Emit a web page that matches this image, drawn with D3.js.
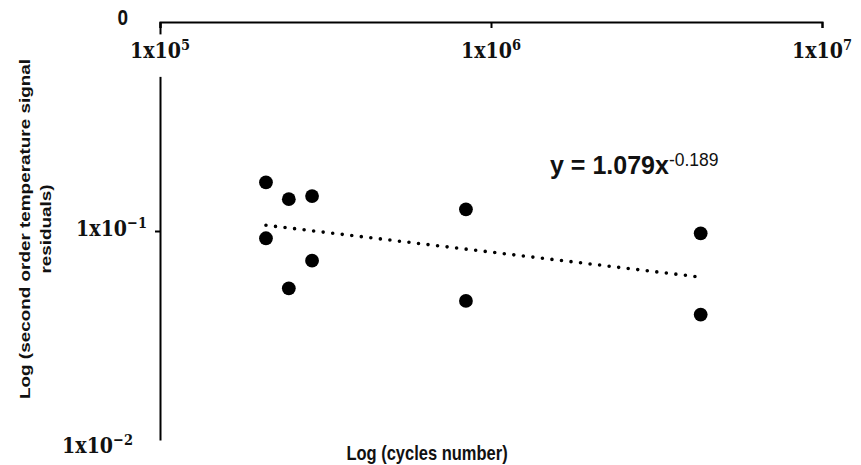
<!DOCTYPE html>
<html lang="en">
<head>
  <meta charset="UTF-8" />
  <title>Residuals vs cycles</title>
  <script src="https://d3js.org/d3.v7.min.js"></script>
  <style>
    body { margin: 0; background: #fff; }
    svg { display: block; }
    .axis path, .axis line { stroke: #000; stroke-width: 2px; }
    .tick-lbl { font-family: 'DejaVu Serif', serif; font-weight: bold; fill: #111; }
    .title { font-family: 'Liberation Sans', Arial, sans-serif; font-weight: bold; fill: #111; }
  </style>
</head>
<body>
  <svg id="chart" width="861" height="465"></svg>
  <script>
    // cycles number and residuals
    const cycles = [2.09e5, 2.45e5, 2.88e5, 2.09e5, 2.88e5, 2.45e5, 8.4e5, 8.4e5, 4.3e6, 4.3e6];
    const residuals = [0.171, 0.142, 0.147, 0.0923, 0.0721, 0.0532, 0.127, 0.0463, 0.0975, 0.0398];

    // power trendline y = a * x^b
    const trendA = 1.079;
    const trendB = -0.189;

    const xTicks = [1e5, 1e6, 1e7];
    const xTickExp = ["5", "6", "7"];
    const yTicks = [0.1, 0.01];
    const yTickExp = ["\u22121", "\u22122"];

    const stretch = 1.18; // the original figure text looks squeezed tall

    const svg = d3.select("#chart");
    const x = d3.scaleLog().domain([1e5, 1e7]).range([160, 822]);
    const y = d3.scaleLog().domain([0.01, 1]).range([440, 22]);

    // x axis sits on top (at y = 1), ticks pointing down
    svg.append("g")
      .attr("class", "axis")
      .attr("transform", `translate(0,${y(1)})`)
      .call(d3.axisBottom(x).tickValues(xTicks).tickFormat("").tickSize(6));

    svg.append("g")
      .attr("class", "axis")
      .attr("transform", `translate(${x(1e5)},0)`)
      .call(d3.axisLeft(y).tickValues([0.1]).tickFormat("").tickSize(5).tickSizeOuter(0));

    function powLabel(sel, exp) {
      sel.append("tspan").text("1x10");
      sel.append("tspan").attr("dy", -7).style("font-size", "13px").text(exp);
    }

    // x tick labels with white box so the y axis is hidden behind them
    xTicks.forEach((t, i) => {
      const g = svg.append("g")
        .attr("transform", `translate(${x(t)},58) scale(1,${stretch})`);
      const txt = g.append("text")
        .attr("class", "tick-lbl")
        .attr("text-anchor", "middle")
        .style("font-size", "19px")
        .call(powLabel, xTickExp[i]);
      const bb = txt.node().getBBox();
      g.insert("rect", "text")
        .attr("x", bb.x - 2).attr("y", -20)
        .attr("width", bb.width + 4).attr("height", 36)
        .attr("fill", "#fff");
    });

    // y tick labels
    yTicks.forEach((t, i) => {
      svg.append("text")
        .attr("class", "tick-lbl")
        .attr("transform", `translate(${i === 0 ? 147 : 133},${i === 0 ? y(t) + 5 : y(t) + 13}) scale(1,${stretch})`)
        .attr("text-anchor", "end")
        .style("font-size", "19px")
        .call(powLabel, yTickExp[i]);
    });
    svg.append("text")
      .attr("class", "title")
      .attr("transform", `translate(128,${y(1) + 3}) scale(1,${stretch})`)
      .attr("text-anchor", "end")
      .style("font-size", "19px")
      .text("0");

    // trendline over data range
    const xs = d3.extent(cycles);
    svg.append("line")
      .attr("x1", x(xs[0])).attr("y1", y(trendA * Math.pow(xs[0], trendB)))
      .attr("x2", x(xs[1])).attr("y2", y(trendA * Math.pow(xs[1], trendB)))
      .attr("stroke", "#000")
      .attr("stroke-width", 3.6)
      .attr("stroke-linecap", "round")
      .attr("stroke-dasharray", "0,9.6");

    // points
    svg.selectAll(".pt")
      .data(cycles.map((c, i) => ({ c, r: residuals[i] })))
      .enter()
      .append("circle")
      .attr("class", "pt")
      .attr("cx", d => x(d.c))
      .attr("cy", d => y(d.r))
      .attr("r", 6.9)
      .attr("fill", "#000");

    // equation
    const eq = svg.append("text")
      .attr("class", "title")
      .attr("x", 550).attr("y", 174)
      .style("font-size", "25px");
    eq.append("tspan").text(`y = ${trendA}x`);
    eq.append("tspan").attr("dy", -8).style("font-size", "17.5px").style("font-weight", "normal").text(trendB);

    // axis titles
    svg.append("text")
      .attr("class", "title")
      .attr("transform", `translate(427,460) scale(1,${stretch})`)
      .attr("text-anchor", "middle")
      .style("font-size", "16.5px")
      .text("Log (cycles number)");

    const yt = svg.append("text")
      .attr("class", "title")
      .attr("transform", "translate(30,229) rotate(-90) scale(1.22,1)")
      .attr("text-anchor", "middle")
      .style("font-size", "15.5px");
    yt.append("tspan").attr("x", 0).attr("y", 0).text("Log (second order temperature signal");
    yt.append("tspan").attr("x", 0).attr("y", 21).text("residuals)");
  </script>
</body>
</html>
